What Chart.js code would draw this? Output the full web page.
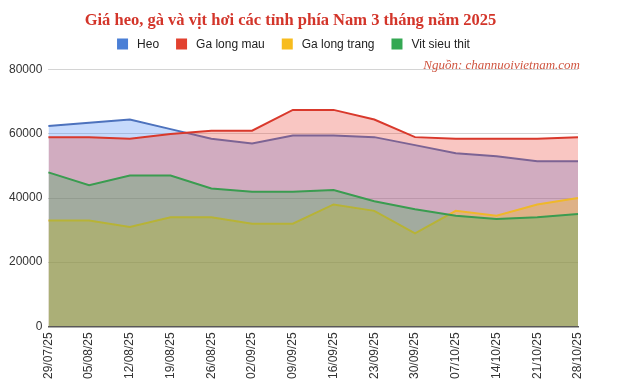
<!DOCTYPE html>
<html><head><meta charset="utf-8">
<script src="https://cdn.jsdelivr.net/npm/chart.js@4/dist/chart.umd.min.js"></script>
<style>html,body{margin:0;padding:0;background:#fff;}#wrap{width:617px;height:390px;position:relative;}</style>
</head><body><div id="wrap"><canvas id="c" width="617" height="390"></canvas></div>
<script>
const categories = ["29/07/25","05/08/25","12/08/25","19/08/25","26/08/25","02/09/25","09/09/25","16/09/25","23/09/25","30/09/25","07/10/25","14/10/25","21/10/25","28/10/25"];
const heo        = [62500,63500,64500,61500,58500,57000,59500,59500,59000,56500,54000,53000,51500,51500];
const gaLongMau  = [59000,59000,58500,60000,61000,61000,67500,67500,64500,59000,58500,58500,58500,59000];
const gaLongTrang= [33000,33000,31000,34000,34000,32000,32000,38000,36000,29000,36000,34500,38000,40000];
const vitSieuThit= [48000,44000,47000,47000,43000,42000,42000,42500,39000,36500,34500,33500,34000,35000];
const yTicks = [0,20000,40000,60000,80000];
const seriesNames = ["Heo","Ga long mau","Ga long trang","Vit sieu thit"];
const titleText = "Giá heo, gà và vịt hơi các tỉnh phía Nam 3 tháng năm 2025";
const sourceText = "Nguồn: channuoivietnam.com";

const lineCols = ["#4d72bd","#d9392c","#efb82a","#3a9c50"];
const fillCols = ["rgba(66,133,244,0.30)","rgba(234,67,53,0.30)","rgba(251,188,4,0.30)","rgba(52,168,83,0.30)"];
const legendCols = ["#4a7fd6","#e2412f","#f7bc1e","#34a853"];
const data = [heo,gaLongMau,gaLongTrang,vitSieuThit];

const extrasPlugin = {
  id:'extras',
  afterDraw(chart){
    const ctx = chart.ctx;
    ctx.save();
    // legend
    ctx.font = '12px "Liberation Sans", Arial, sans-serif';
    const box = 11, gap = 9, space = 17;
    const widths = seriesNames.map(n=>ctx.measureText(n).width);
    const total = widths.reduce((a,b)=>a+b,0) + seriesNames.length*(box+gap) + (seriesNames.length-1)*space;
    let x = 293.5 - total/2;
    const yc = 44;
    ctx.textBaseline = 'middle';
    ctx.textAlign = 'left';
    seriesNames.forEach((n,i)=>{
      ctx.fillStyle = legendCols[i];
      ctx.fillRect(x, yc - box/2, box, box);
      x += box + gap;
      ctx.fillStyle = '#222';
      ctx.fillText(n, x, yc + 1);
      x += widths[i] + space;
    });
    // source
    ctx.font = 'italic 13px "Liberation Serif", serif';
    ctx.fillStyle = '#cf5540';
    ctx.textAlign = 'right';
    ctx.fillText(sourceText, 580, 66);
    ctx.restore();
  }
};

new Chart(document.getElementById('c'), {
  type:'line',
  data:{
    labels:categories,
    datasets:data.map((d,i)=>({
      label:seriesNames[i], data:d, borderColor:lineCols[i], backgroundColor:fillCols[i],
      borderWidth:2, pointRadius:0, fill:'origin', tension:0, order:3-i
    }))
  },
  options:{
    responsive:false, animation:false,
    layout:{padding:{left:3,right:39,top:0,bottom:5}},
    plugins:{
      title:{display:true,text:titleText,color:'#d3352a',
        font:{family:'"Liberation Serif", serif',size:16.5,weight:'bold'},padding:{top:11,bottom:39}},
      legend:{display:false},
      tooltip:{enabled:false}
    },
    scales:{
      x:{grid:{display:false,drawTicks:false},border:{display:true,color:'#5a5a5a',width:1.5},
        ticks:{maxRotation:90,minRotation:90,autoSkip:false,color:'#333',padding:6,
          font:{family:'"Liberation Sans", Arial, sans-serif',size:12}}},
      y:{min:0,max:80000,
        afterBuildTicks(axis){axis.ticks=yTicks.map(v=>({value:v}));},
        grid:{color:'#d4d4d4',drawTicks:false},border:{display:false},
        ticks:{color:'#333',padding:6,callback:v=>String(v),
          font:{family:'"Liberation Sans", Arial, sans-serif',size:12}}}
    }
  },
  plugins:[extrasPlugin]
});
</script></body></html>
